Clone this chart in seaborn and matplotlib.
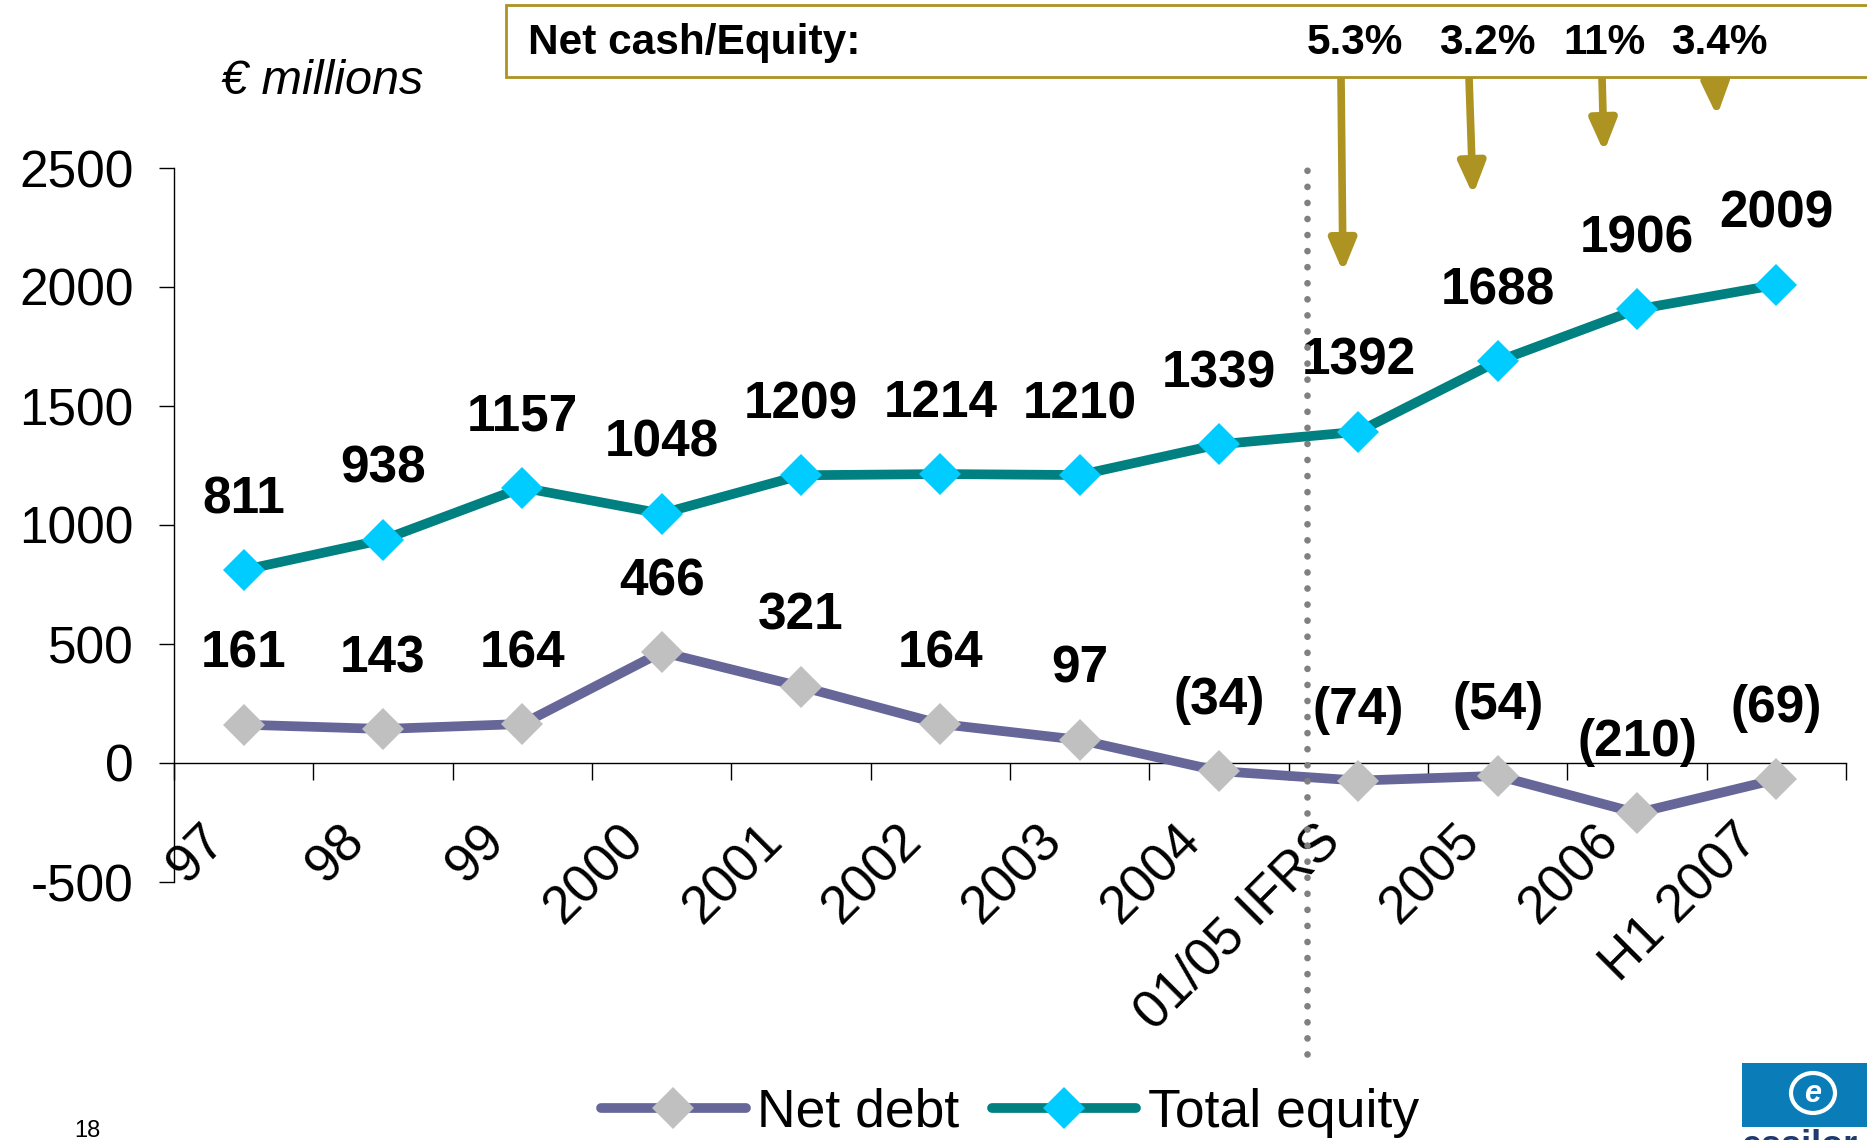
import numpy as np
import matplotlib
matplotlib.use('Agg')
import matplotlib.pyplot as plt
import seaborn as sns
from matplotlib.patches import Rectangle, Ellipse
from matplotlib.transforms import ScaledTranslation

# chart data
categories = ['97', '98', '99', '2000', '2001', '2002', '2003', '2004',
              '01/05 IFRS', '2005', '2006', 'H1 2007']
total_equity = [811, 938, 1157, 1048, 1209, 1214, 1210, 1339, 1392, 1688, 1906, 2009]
net_debt = [161, 143, 164, 466, 321, 164, 97, -34, -74, -54, -210, -69]
ratio_labels = ['5.3%', '3.2%', '11%', '3.4%']
y_ticks = [-500, 0, 500, 1000, 1500, 2000, 2500]

TEAL = '#008080'
CYAN = '#00CCFF'
SLATE = '#666699'
SILVER = '#C0C0C0'
GOLD = '#AD9321'

sns.set_style('white')
plt.rcParams['font.family'] = ['Liberation Sans', 'DejaVu Sans']
plt.rcParams['text.color'] = 'black'
plt.rcParams['xtick.color'] = 'black'
plt.rcParams['ytick.color'] = 'black'

W, H = 1867, 1140
fig = plt.figure(figsize=(W / 100, H / 100), dpi=100)
ax = fig.add_axes([174 / W, 1 - 882 / H, (1846 - 174) / W, (882 - 168) / H])

pos = np.arange(len(categories))
sns.lineplot(x=pos, y=net_debt, ax=ax, color=SLATE, linewidth=7, marker='D',
             markersize=21.4, markerfacecolor=SILVER, markeredgewidth=0,
             label='Net debt', zorder=3)
sns.lineplot(x=pos, y=total_equity, ax=ax, color=TEAL, linewidth=7, marker='D',
             markersize=21.4, markerfacecolor=CYAN, markeredgewidth=0,
             label='Total equity', zorder=3)

# value labels
for i, v in enumerate(total_equity):
    ax.annotate(str(v), xy=(i, v), xytext=(0, 41), textcoords='offset points',
                ha='center', va='baseline', fontsize=37, fontweight='bold', color='black')
for i, v in enumerate(net_debt):
    txt = f'({abs(v)})' if v < 0 else str(v)
    ax.annotate(txt, xy=(i, v), xytext=(0, 41), textcoords='offset points',
                ha='center', va='baseline', fontsize=37, fontweight='bold', color='black')

# IFRS separator
ax.axvline(7.63, ymin=-0.241, ymax=1.0, color='#808080', linewidth=4.8,
           linestyle=(0, (0.01, 2.4)), dash_capstyle='round', clip_on=False, zorder=10)

# axes styling
ax.set_xlim(-0.5, len(categories) - 0.5)
ax.set_ylim(-500, 2500)
ax.set_yticks(y_ticks)
ax.set_yticklabels([str(t) for t in y_ticks], fontsize=37)
ax.tick_params(axis='y', direction='out', length=11, width=1, pad=18, left=True,
               color='black', labelcolor='black')

ax.spines['bottom'].set_position(('data', 0))
for s in ['top', 'right']:
    ax.spines[s].set_visible(False)
for s in ['left', 'bottom']:
    ax.spines[s].set_color('black')
    ax.spines[s].set_linewidth(1)

ax.set_xticks(pos)
ax.set_xticks(np.arange(-0.5, len(categories)), minor=True)
ax.tick_params(axis='x', which='major', length=0, pad=0, bottom=True, labelcolor='black')
ax.tick_params(axis='x', which='minor', direction='out', length=12, width=1, bottom=True, color='black')
ax.set_xticklabels(categories, fontsize=38, rotation=45, ha='right', va='center',
                   rotation_mode='anchor')
shift = ScaledTranslation(-26 / 100, -70 / 100, fig.dpi_scale_trans)
for lab in ax.get_xticklabels():
    lab.set_transform(lab.get_transform() + shift)

ax.set_xlabel('')
ax.set_ylabel('')

# legend
ax.legend(loc='center', bbox_to_anchor=(0.541, 0.0237), bbox_transform=fig.transFigure,
          ncol=2, frameon=False, fontsize=38.5, handlelength=2.7, handletextpad=0.22,
          columnspacing=0.6, borderpad=0, labelcolor='black')

# unit label
fig.text(221 / W, 1 - 82 / H, '€ millions', fontsize=35, style='italic',
         ha='left', va='center')

# net cash / equity box
fig.patches.append(Rectangle((506 / W, 1 - 77 / H), (1900 - 506) / W, 72 / H,
                             transform=fig.transFigure, facecolor='white',
                             edgecolor=GOLD, linewidth=2, zorder=1))
fig.text(528 / W, 1 - 43 / H, 'Net cash/Equity:', fontsize=30.5, fontweight='bold',
         ha='left', va='center')
ratio_x = [1355, 1487, 1604, 1719]
for lab, xp in zip(ratio_labels, ratio_x):
    fig.text(xp / W, 1 - 43 / H, lab, fontsize=30.5, fontweight='bold',
             ha='center', va='center')

arrows = [((1341, 77), (1343, 272)), ((1469, 77), (1473, 195)),
          ((1602, 77), (1604, 152)), ((1715, 77), (1717, 116))]
for (x0, y0), (x1, y1) in arrows:
    ax.annotate('', xy=(x1, H - y1), xytext=(x0, H - y0),
                xycoords='figure pixels', textcoords='figure pixels',
                arrowprops=dict(arrowstyle='-|>,head_length=0.95,head_width=0.4',
                                mutation_scale=20, color=GOLD, lw=5.5,
                                shrinkA=0, shrinkB=0), annotation_clip=False)

# page number and logo
fig.text(74 / W, 3 / H, '18', fontsize=17, ha='left', va='baseline')
fig.patches.append(Rectangle((1742 / W, 13 / H), 130 / W, 64 / H,
                             transform=fig.transFigure, facecolor='#0A7DB8',
                             edgecolor='none'))
fig.patches.append(Ellipse((1813 / W, 1 - 1093 / H), 44 / W, 40 / H,
                           transform=fig.transFigure, facecolor='none',
                           edgecolor='white', linewidth=3))
fig.text(1813 / W, 1 - 1094 / H, 'e', color='white', fontsize=22, fontweight='bold',
         style='italic', ha='center', va='center')
fig.text(1742 / W, -16 / H, 'essilor', color='#1F3A6E', fontsize=26,
         fontweight='bold', ha='left', va='baseline')

fig.savefig('out.png', dpi=100)
